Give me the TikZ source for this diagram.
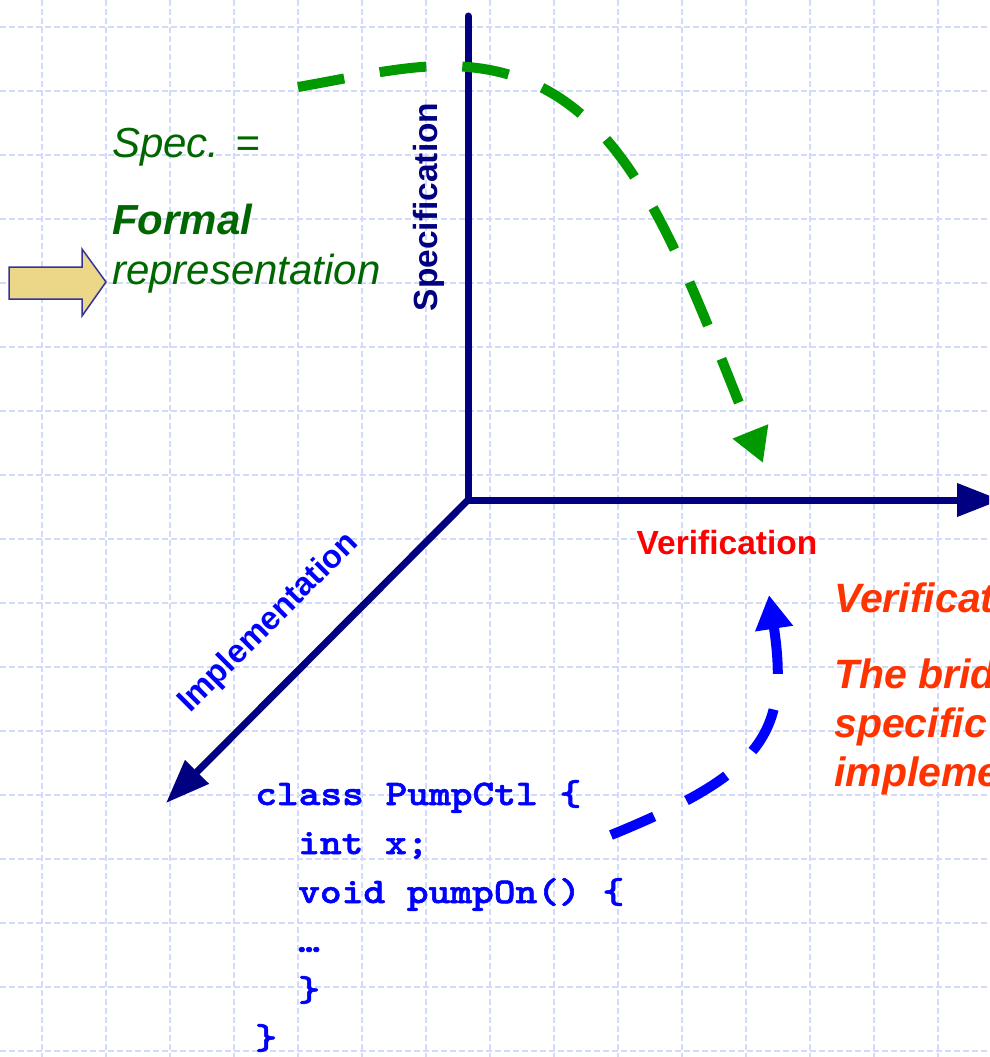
\documentclass[tikz,border=0pt]{standalone}
\usepackage{fontspec}
\setmainfont{Liberation Sans}
\newfontfamily\codefont[FakeStretch=1.15,FakeBold=1.6]{lmmonolt10-bold.otf}
\usetikzlibrary{arrows.meta}

\definecolor{axisnavy}{RGB}{0,0,128}
\definecolor{gridblue}{RGB}{208,220,250}
\definecolor{specgreen}{RGB}{0,102,0}
\definecolor{flowgreen}{RGB}{0,153,0}
\definecolor{flowblue}{RGB}{0,0,255}
\definecolor{verired}{RGB}{255,0,0}
\definecolor{noteorange}{RGB}{255,51,0}
\definecolor{pointerfill}{RGB}{235,215,135}
\definecolor{pointerline}{RGB}{51,51,153}

\begin{document}
\begin{tikzpicture}[x=1pt,y=-1pt,
  gridline/.style={gridblue, line width=1.5pt, dash pattern=on 6pt off 3pt},
  axis/.style={axisnavy, line width=7pt, line cap=round,
    -{Triangle[length=44pt,width=32pt]}},
  axislabel/.style={font=\bfseries\fontsize{33.5}{40}\selectfont, inner sep=0pt},
  greentext/.style={specgreen, font=\itshape\fontsize{42}{50}\selectfont,
    anchor=base west, inner sep=0pt},
  note/.style={noteorange, font=\bfseries\itshape\fontsize{41}{48}\selectfont,
    anchor=base west, inner sep=0pt},
  codeline/.style={flowblue, font=\codefont\fontsize{36}{44}\selectfont,
    anchor=base west, inner sep=0pt},
  flow/.style={line width=10pt, dash pattern=on 47pt off 36pt,
    -{Triangle[length=34pt,width=36pt]}},
]
\useasboundingbox (0,0) rectangle (989,1057);
\clip (0,0) rectangle (989,1057);
\fill[white] (0,0) rectangle (989,1057);

% background grid
\foreach \gx in {42,106,...,938}
  \draw[gridline] (\gx,0) -- (\gx,1057);
\foreach \gy in {27,91,...,1051}
  \draw[gridline] (0,\gy) -- (989,\gy);

% axes
\coordinate (O) at (468,500);
\coordinate (ytop) at (468,16);
\coordinate (xend) at (1001,500);
\coordinate (zend) at (166,803);
\draw[axis] (ytop) -- (O) -- (xend);
\draw[axis] (O) -- (zend);

\node[axislabel, axisnavy, rotate=90] (speclabel) at (429,207) {Specification};
\node[axislabel, verired] (verilabel) at (727,543) {Verification};
\node[axislabel, flowblue, rotate=45, font=\bfseries\fontsize{32.5}{40}\selectfont]
  (impllabel) at (269,623) {Implementation};

% specification text and pointer
\node[greentext] (specA) at (112,157) {Spec. =};
\node[greentext, font=\bfseries\itshape\fontsize{42}{50}\selectfont] (specB) at (112,234) {Formal};
\node[greentext] (specC) at (112,284) {representation};
\filldraw[fill=pointerfill, draw=pointerline, line width=1.5pt, line join=miter]
  (9,267) -- (82,267) -- (82,249) -- (106,282) -- (82,316) -- (82,299) -- (9,299) -- cycle;

% curved flows
\coordinate (gs) at (298,87);
\coordinate (gp) at (445,66);
\coordinate (ge) at (763,463);
\draw[flow, flowgreen] (gs) .. controls (350,78) and (400,66) .. (gp)
  .. controls (615,66) and (666,221) .. (ge);

\coordinate (bs) at (611,835);
\coordinate (be) at (769,595);
\draw[flow, flowblue] (bs) .. controls (761,774) and (790,734) .. (be);

% verification note
\node[note] (noteA) at (834,612) {Verificat};
\node[note] (noteB) at (834,688) {The brid};
\node[note] (noteC) at (834,737) {specific};
\node[note] (noteD) at (834,786) {impleme};

% code
\node[codeline] (codeA) at (255,805) {class PumpCtl \{};
\node[codeline] (codeB) at (298,854) {int x;};
\node[codeline] (codeC) at (298,903) {void pumpOn() \{};
\node[codeline] (codeD) at (298,952) {…};
\node[codeline] (codeE) at (298,1001) {\}};
\node[codeline] (codeF) at (255,1049) {\}};
\end{tikzpicture}
\end{document}
